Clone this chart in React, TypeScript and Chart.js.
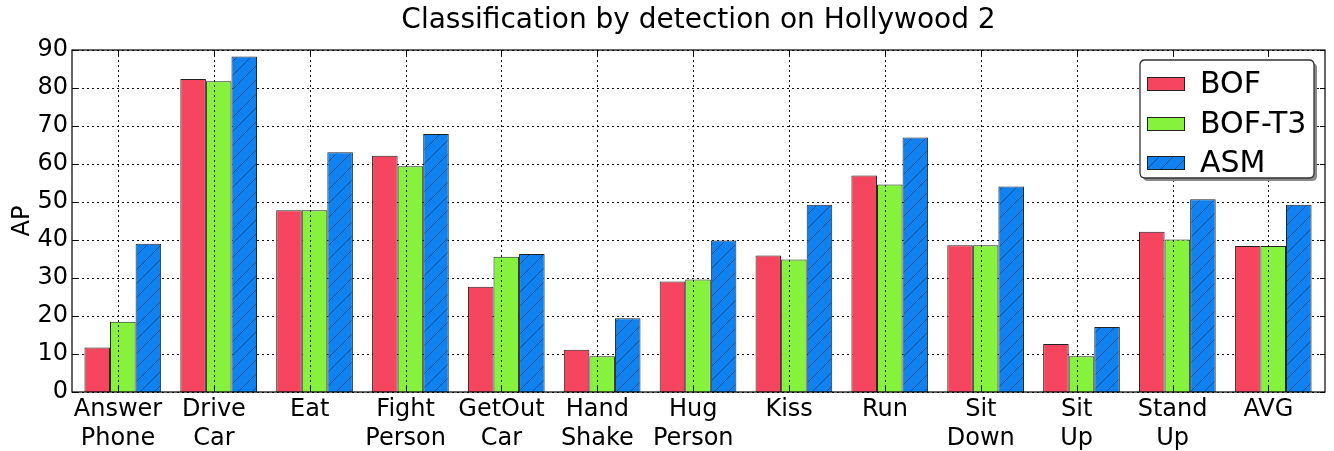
import React, { useEffect, useRef } from "react";
import { Chart, registerables } from "chart.js";

Chart.register(...registerables);

const categories: string[][] = [
  ["Answer", "Phone"], ["Drive", "Car"], ["Eat"], ["Fight", "Person"], ["GetOut", "Car"],
  ["Hand", "Shake"], ["Hug", "Person"], ["Kiss"], ["Run"], ["Sit", "Down"], ["Sit", "Up"],
  ["Stand", "Up"], ["AVG"],
];
const seriesNames = ["BOF", "BOF-T3", "ASM"];
const bofValues = [11.7, 82.4, 47.8, 62.2, 27.7, 11.1, 29.1, 35.9, 57.0, 38.6, 12.6, 42.2, 38.4];
const bofT3Values = [18.5, 81.8, 47.8, 59.4, 35.6, 9.4, 29.6, 34.9, 54.6, 38.6, 9.4, 40.1, 38.4];
const asmValues = [39.0, 88.3, 63.1, 67.9, 36.3, 19.4, 39.9, 49.3, 67.0, 54.1, 17.1, 50.7, 49.3];
const yTicks = [0, 10, 20, 30, 40, 50, 60, 70, 80, 90];

const FONT = "'DejaVu Sans', sans-serif";
const RED = "#f6465f";
const GREEN = "#86f23e";
const BLUE = "#0f82ef";
const TICK_SHIFT = -0.05; // category tick sits slightly left of the bar-group centre

function makeHatch(): CanvasPattern | string {
  const s = 14;
  const c = document.createElement("canvas");
  c.width = s;
  c.height = s;
  const g = c.getContext("2d");
  if (!g) return BLUE;
  g.fillStyle = BLUE;
  g.fillRect(0, 0, s, s);
  g.strokeStyle = "#124a8c";
  g.lineWidth = 0.9;
  g.beginPath();
  g.moveTo(0, s);
  g.lineTo(s, 0);
  g.moveTo(-2, 2);
  g.lineTo(2, -2);
  g.moveTo(s - 2, s + 2);
  g.lineTo(s + 2, s - 2);
  g.stroke();
  const ctx = document.createElement("canvas").getContext("2d");
  const p = ctx ? ctx.createPattern(c, "repeat") : null;
  return p || BLUE;
}

export default function App() {
  const ref = useRef<HTMLCanvasElement | null>(null);

  useEffect(() => {
    document.body.style.margin = "0";
    const canvas = ref.current;
    if (!canvas) return;
    const hatch = makeHatch();
    const toPts = (arr: number[]) => arr.map((v, i) => ({ x: i, y: v }));

    const dotted = (ctx: CanvasRenderingContext2D) => {
      ctx.strokeStyle = "#111";
      ctx.lineWidth = 1;
      ctx.setLineDash([2, 3]);
    };

    const gridPlugin = {
      id: "dottedGrid",
      beforeDatasetsDraw(chart: any) {
        const { ctx, chartArea } = chart;
        const ys = chart.scales.y;
        ctx.save();
        dotted(ctx);
        ctx.beginPath();
        yTicks.forEach((v) => {
          const py = Math.round(ys.getPixelForValue(v)) + 0.5;
          ctx.moveTo(chartArea.left, py);
          ctx.lineTo(chartArea.right, py);
        });
        ctx.stroke();
        ctx.restore();
      },
      afterDatasetsDraw(chart: any) {
        const { ctx, chartArea } = chart;
        const xs = chart.scales.x;
        ctx.save();
        dotted(ctx);
        ctx.beginPath();
        categories.forEach((_, i) => {
          const px = Math.round(xs.getPixelForValue(i + TICK_SHIFT)) + 0.5;
          ctx.moveTo(px, chartArea.top);
          ctx.lineTo(px, chartArea.bottom);
        });
        ctx.stroke();
        ctx.restore();
      },
    };

    const framePlugin = {
      id: "frameAndLegend",
      afterDraw(chart: any) {
        const { ctx, chartArea } = chart;
        const { left, right, top, bottom } = chartArea;
        const ys = chart.scales.y;
        const xs = chart.scales.x;
        ctx.save();
        ctx.strokeStyle = "#000";
        ctx.lineWidth = 1.2;
        ctx.strokeRect(left, top, right - left, bottom - top);
        ctx.lineWidth = 1;
        ctx.beginPath();
        const tl = 5;
        yTicks.forEach((v) => {
          const py = Math.round(ys.getPixelForValue(v)) + 0.5;
          ctx.moveTo(left, py);
          ctx.lineTo(left + tl, py);
          ctx.moveTo(right, py);
          ctx.lineTo(right - tl, py);
        });
        categories.forEach((_, i) => {
          const px = Math.round(xs.getPixelForValue(i + TICK_SHIFT)) + 0.5;
          ctx.moveTo(px, bottom);
          ctx.lineTo(px, bottom - tl);
          ctx.moveTo(px, top);
          ctx.lineTo(px, top + tl);
        });
        ctx.stroke();

        // legend
        const bx = 1140, by = 60, bw = 174, bh = 118, r = 5;
        const rr = (x: number, y: number) => {
          ctx.beginPath();
          ctx.moveTo(x + r, y);
          ctx.lineTo(x + bw - r, y);
          ctx.quadraticCurveTo(x + bw, y, x + bw, y + r);
          ctx.lineTo(x + bw, y + bh - r);
          ctx.quadraticCurveTo(x + bw, y + bh, x + bw - r, y + bh);
          ctx.lineTo(x + r, y + bh);
          ctx.quadraticCurveTo(x, y + bh, x, y + bh - r);
          ctx.lineTo(x, y + r);
          ctx.quadraticCurveTo(x, y, x + r, y);
          ctx.closePath();
        };
        rr(bx + 3, by + 3);
        ctx.fillStyle = "#8a8a8a";
        ctx.fill();
        rr(bx, by);
        ctx.fillStyle = "#fff";
        ctx.fill();
        ctx.strokeStyle = "#333";
        ctx.lineWidth = 1.3;
        ctx.stroke();
        const fills: any[] = [RED, GREEN, hatch];
        const rowY = [84, 124, 163];
        ctx.font = `30px ${FONT}`;
        ctx.textBaseline = "middle";
        ctx.textAlign = "left";
        seriesNames.forEach((name, i) => {
          const cy = rowY[i];
          ctx.fillStyle = fills[i];
          ctx.fillRect(1147, cy - 7, 38, 14);
          ctx.strokeStyle = "#222";
          ctx.lineWidth = 1;
          ctx.strokeRect(1147.5, cy - 6.5, 37, 13);
          ctx.fillStyle = "#000";
          ctx.fillText(name, 1200, cy + 1);
        });
        ctx.restore();
      },
    };

    const chart = new Chart(canvas, {
      type: "bar",
      data: {
        datasets: [
          { label: seriesNames[0], data: toPts(bofValues), backgroundColor: RED, borderColor: "#222", borderWidth: 1 },
          { label: seriesNames[1], data: toPts(bofT3Values), backgroundColor: GREEN, borderColor: "#222", borderWidth: 1 },
          { label: seriesNames[2], data: toPts(asmValues), backgroundColor: hatch as any, borderColor: "#222", borderWidth: 1 },
        ],
      },
      options: {
        responsive: false,
        animation: false,
        layout: { padding: { left: 0, right: 9, top: 0, bottom: 0 } },
        datasets: { bar: { categoryPercentage: 0.8, barPercentage: 1.0 } },
        plugins: {
          legend: { display: false },
          tooltip: { enabled: false },
          title: {
            display: true,
            fullSize: false,
            text: "Classification by detection on Hollywood 2",
            color: "#000",
            font: { family: FONT, size: 28, weight: "normal", lineHeight: 1.2 },
            padding: { top: 4, bottom: 12.4 },
          },
        },
        scales: {
          x: {
            type: "linear",
            offset: false,
            min: -0.53,
            max: 12.54,
            afterBuildTicks: (scale: any) => {
              scale.ticks = categories.map((_, i) => ({ value: i + TICK_SHIFT }));
            },
            afterFit: (scale: any) => {
              scale.height = 59;
            },
            ticks: {
              autoSkip: false,
              maxRotation: 0,
              padding: 3,
              color: "#000",
              font: { family: FONT, size: 24, lineHeight: 1.21 },
              callback: (v: any) => categories[Math.round(Number(v))] || "",
            },
            grid: { display: false, drawTicks: false },
            border: { display: false },
          },
          y: {
            min: 0,
            max: 90,
            afterBuildTicks: (scale: any) => {
              scale.ticks = yTicks.map((v) => ({ value: v }));
            },
            afterFit: (scale: any) => {
              scale.width = 72;
            },
            ticks: {
              padding: 4,
              color: "#000",
              font: { family: FONT, size: 24 },
            },
            grid: { display: false, drawTicks: false },
            border: { display: false },
            title: {
              display: true,
              text: "AP",
              color: "#000",
              font: { family: FONT, size: 24 },
              padding: { top: 8, bottom: 0 },
            },
          },
        },
      },
      plugins: [gridPlugin, framePlugin],
    } as any);

    return () => chart.destroy();
  }, []);

  return (
    <div style={{ width: 1334, height: 451 }}>
      <canvas ref={ref} width={1334} height={451} style={{ display: "block" }} />
    </div>
  );
}
